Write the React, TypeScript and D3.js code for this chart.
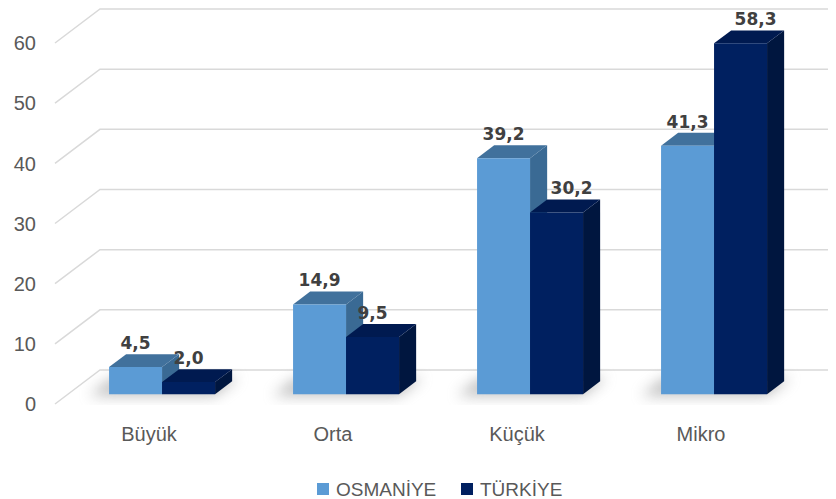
import * as d3 from "d3";

// 3D clustered column chart: Osmaniye vs Türkiye by firm size (%)

const categories = ["Büyük", "Orta", "Küçük", "Mikro"];
const seriesNames = ["OSMANİYE", "TÜRKİYE"];
const osmaniye = [4.5, 14.9, 39.2, 41.3];
const turkiye = [2.0, 9.5, 30.2, 58.3];
const yTicks = [0, 10, 20, 30, 40, 50, 60];

const W = 836;
const H = 499;
const WALL_X = 55; // front-left corner of the floor
const DEPTH = { dx: 45, dy: -34 }; // full depth projection
const BAR_D0 = 0.29;
const BAR_D1 = 0.67;

const COLORS = [
  { front: "#5B9BD5", top: "#41719C", side: "#3A6A94" },
  { front: "#002060", top: "#001A50", side: "#00163F" },
];

const TEXT_FONT = "'Liberation Sans', Arial, sans-serif";
const LABEL_FONT = "'DejaVu Sans', sans-serif";

export default function App() {
  const y = d3.scaleLinear().domain([0, 60]).range([404, 43]);
  const x0 = d3
    .scaleBand<string>()
    .domain(categories)
    .range([57, 793])
    .paddingInner(0.424)
    .paddingOuter(0.212);
  const x1 = d3
    .scaleBand<string>()
    .domain(seriesNames)
    .range([0, x0.bandwidth()]);

  const values = [osmaniye, turkiye];
  const pt = (x: number, yy: number, d: number) =>
    `${x + DEPTH.dx * d},${yy + DEPTH.dy * d}`;

  const bars: any[] = [];
  categories.forEach((cat, ci) => {
    seriesNames.forEach((s, si) => {
      const v = values[si][ci];
      const xl = (x0(cat) as number) + (x1(s) as number);
      const xr = xl + x1.bandwidth();
      bars.push({ key: cat + s, ci, si, v, xl, xr });
    });
  });

  // labels that sit past the front face in the original (tall back bars)
  const nudge = (b: any) => (b.si === 1 && b.v > 20 ? 15 : 0);

  return (
    <svg width={W} height={H} style={{ display: "block", marginLeft: -8, marginTop: -8 }}>
      <defs>
        <filter id="shadowBlur" x="-50%" y="-50%" width="200%" height="200%">
          <feGaussianBlur stdDeviation="7" />
        </filter>
      </defs>
      <rect width={W} height={H} fill="#fff" />

      {/* gridlines: back wall + left wall diagonals */}
      {yTicks.map((t) => (
        <g key={t}>
          <polyline
            points={`${WALL_X},${y(t)} ${pt(WALL_X, y(t), 1)} ${W},${y(t) + DEPTH.dy}`}
            fill="none"
            stroke="#D9D9D9"
            strokeWidth={1.5}
          />
          <text
            x={36}
            y={y(t)}
            dy="0.36em"
            textAnchor="end"
            fontFamily={TEXT_FONT}
            fontSize={20}
            fill="#595959"
          >
            {t}
          </text>
        </g>
      ))}

      {/* floor shadows under each group */}
      {categories.map((cat) => {
        const xl = x0(cat) as number;
        const xr = xl + x0.bandwidth();
        const yb = y(0);
        return (
          <polygon
            key={cat}
            points={[
              pt(xl - 18, yb, BAR_D0 - 0.05),
              pt(xr + 2, yb, BAR_D0 - 0.05),
              pt(xr + 2, yb, BAR_D1 + 0.1),
              pt(xl - 18, yb, BAR_D1 + 0.1),
            ].join(" ")}
            fill="#7F7F7F"
            opacity={0.5}
            filter="url(#shadowBlur)"
          />
        );
      })}

      {/* bars: side, top, front faces */}
      {bars.map((b) => {
        const c = COLORS[b.si];
        const yb = y(0);
        const yt = y(b.v);
        const front = [pt(b.xl, yb, BAR_D0), pt(b.xr, yb, BAR_D0), pt(b.xr, yt, BAR_D0), pt(b.xl, yt, BAR_D0)];
        const top = [pt(b.xl, yt, BAR_D0), pt(b.xr, yt, BAR_D0), pt(b.xr, yt, BAR_D1), pt(b.xl, yt, BAR_D1)];
        const side = [pt(b.xr, yb, BAR_D0), pt(b.xr, yb, BAR_D1), pt(b.xr, yt, BAR_D1), pt(b.xr, yt, BAR_D0)];
        return (
          <g key={b.key}>
            <polygon points={side.join(" ")} fill={c.side} />
            <polygon points={top.join(" ")} fill={c.top} />
            <polygon points={front.join(" ")} fill={c.front} />
          </g>
        );
      })}

      {/* value labels */}
      {bars.map((b) => {
        const cx = (b.xl + b.xr) / 2 + DEPTH.dx * BAR_D0 + nudge(b);
        const cy = y(b.v) + DEPTH.dy * BAR_D0 - 18;
        return (
          <text
            key={"l" + b.key}
            x={cx}
            y={cy}
            textAnchor="middle"
            fontFamily={LABEL_FONT}
            fontWeight="bold"
            fontSize={17}
            fill="#404040"
          >
            {d3.format(".1f")(b.v).replace(".", ",")}
          </text>
        );
      })}

      {/* category labels */}
      {categories.map((cat) => (
        <text
          key={"c" + cat}
          x={(x0(cat) as number) + x0.bandwidth() / 2}
          y={441}
          textAnchor="middle"
          fontFamily={TEXT_FONT}
          fontSize={20}
          fill="#595959"
        >
          {cat}
        </text>
      ))}

      {/* legend */}
      {seriesNames.map((s, i) => {
        const lx = [317, 461][i];
        return (
          <g key={"lg" + s}>
            <rect x={lx} y={483} width={12} height={12} fill={COLORS[i].front} />
            <text
              x={lx + 19}
              y={495.5}
              fontFamily={TEXT_FONT}
              fontSize={19}
              fill="#595959"
            >
              {s}
            </text>
          </g>
        );
      })}
    </svg>
  );
}
